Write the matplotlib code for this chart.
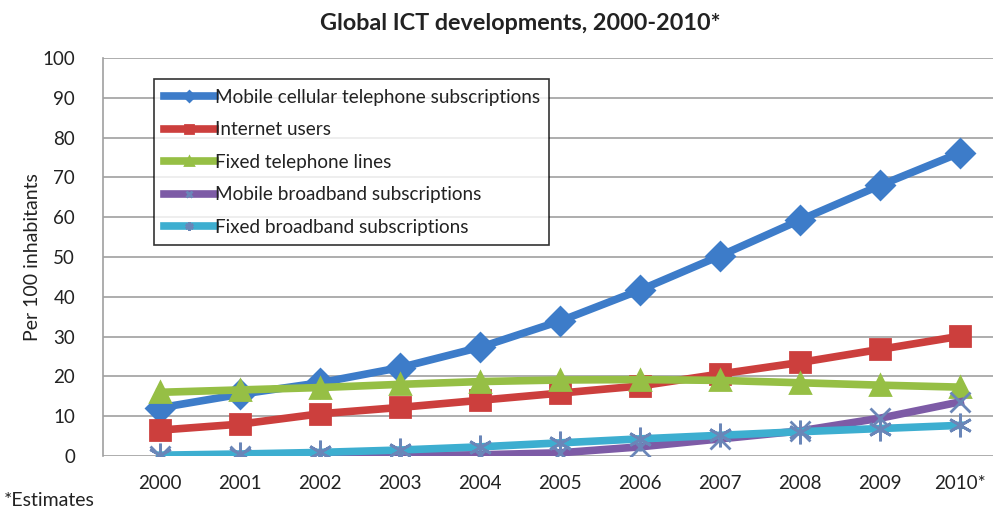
import matplotlib.pyplot as plt
from matplotlib.ticker import MultipleLocator

years = [2000, 2001, 2002, 2003, 2004, 2005, 2006, 2007, 2008, 2009, 2010]
year_labels = ["2000", "2001", "2002", "2003", "2004", "2005", "2006",
               "2007", "2008", "2009", "2010*"]

mobile_cellular = [12.1, 15.5, 18.4, 22.2, 27.3, 33.9, 41.7, 50.3, 59.3, 68.0, 76.2]
internet_users = [6.5, 8.0, 10.6, 12.2, 14.0, 15.8, 17.6, 20.6, 23.5, 26.8, 30.1]
fixed_telephone = [16.0, 16.6, 17.2, 18.0, 18.7, 19.1, 19.2, 19.0, 18.4, 17.8, 17.3]
mobile_broadband = [0.0, 0.0, 0.0, 0.1, 0.3, 0.8, 2.3, 4.3, 6.3, 9.5, 13.6]
fixed_broadband = [0.2, 0.5, 0.9, 1.5, 2.3, 3.3, 4.3, 5.2, 6.1, 6.9, 7.7]

# label, values, colour, marker, size
series = [
    ("Mobile cellular telephone subscriptions", mobile_cellular, "#3d7cc9", "D", 14),
    ("Internet users", internet_users, "#cc3f3d", "s", 15),
    ("Fixed telephone lines", fixed_telephone, "#96bf45", "^", 15),
    ("Mobile broadband subscriptions", mobile_broadband, "#7d5ba6", "x", 14),
    ("Fixed broadband subscriptions", fixed_broadband, "#3daed0", (6, 2, 0), 17),
]

plt.rcParams["font.family"] = ["Lato", "DejaVu Sans"]

fig = plt.figure(figsize=(9.93, 5.12), dpi=100)
ax = fig.add_axes([103 / 993, 1 - 456 / 512, 1 - 103 / 993, 398 / 512])

handles = []
for label, values, color, marker, size in series:
    edge = "#6a86b8" if marker in ("x", (6, 2, 0)) else color
    line, = ax.plot(years, values, color=color, lw=5.5, marker=marker,
                    markersize=size, markeredgewidth=2.0,
                    markeredgecolor=edge, label=label, zorder=3)
    handles.append(line)

ax.set_xlim(1999.29, 2010.41)
ax.set_ylim(0, 100)
ax.set_xticks(years, year_labels)
ax.yaxis.set_major_locator(MultipleLocator(10))
ax.tick_params(length=0, labelsize=13.5, colors="#222222")
ax.tick_params(axis="x", pad=14)
ax.tick_params(axis="y", pad=20)
ax.grid(axis="y", color="#a0a0a0", lw=1.2)
ax.set_axisbelow(True)
for side in ("top", "right", "bottom"):
    ax.spines[side].set_visible(False)
ax.spines["left"].set_color("#a0a0a0")
ax.spines["left"].set_linewidth(1.2)

ax.set_ylabel("Per 100 inhabitants", fontsize=14, color="#222222")
ax.yaxis.set_label_coords(-62 / 890, 0.5)

fig.text(520 / 993, 1 - 24 / 512, "Global ICT developments, 2000-2010*",
         ha="center", va="center", fontsize=16.8, fontweight="bold",
         color="#222222")
fig.text(4 / 993, 1 - 500 / 512, "*Estimates", ha="left", va="center",
         fontsize=14, color="#222222")

leg = ax.legend(handles=handles, loc="upper left",
                bbox_to_anchor=((145 - 103) / 890, (456 - 70) / 398),
                frameon=True, fancybox=False, edgecolor="black",
                fontsize=13.6, handlelength=2.7, handletextpad=0.0,
                labelspacing=0.82, borderpad=0.5, markerscale=0.35)
leg.get_frame().set_linewidth(1.2)
for text in leg.get_texts():
    text.set_color("#222222")

fig.savefig("out.png", dpi=100)
